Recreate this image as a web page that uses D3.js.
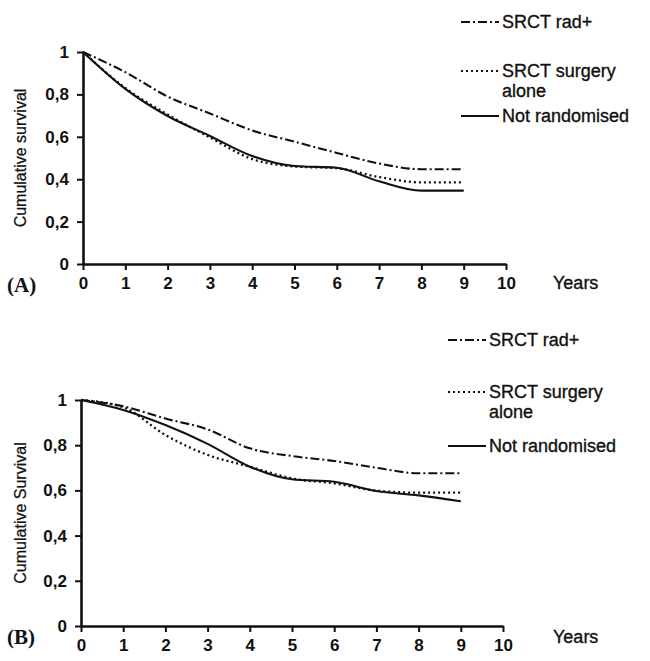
<!DOCTYPE html>
<html lang="en">
<head>
    <meta charset="UTF-8">
    <title>Cumulative survival</title>
    <script src="https://d3js.org/d3.v7.min.js"></script>
    <style>
        body { margin: 0; background: #fff; }
        .tick text { font-family: "Liberation Sans", Arial, sans-serif; font-size: 17px; font-weight: bold; fill: #111; }
        .lbl { font-family: "Liberation Sans", Arial, sans-serif; font-size: 18px; fill: #111; stroke: #111; stroke-width: 0.35; }
        .ytitle { font-family: "Liberation Sans", Arial, sans-serif; font-size: 16px; fill: #111; stroke: #111; stroke-width: 0.25; }
        .panel { font-family: "Liberation Serif", "Times New Roman", serif; font-size: 21px; font-weight: bold; fill: #111; }
    </style>
</head>
<body>
<div id="fig"></div>
<script>
    let years = [0, 1, 2, 3, 4, 5, 6, 7, 8, 9]
    let xTicks = [0, 1, 2, 3, 4, 5, 6, 7, 8, 9, 10]
    let yTicks = [0, 0.2, 0.4, 0.6, 0.8, 1]
    let seriesNames = ["SRCT rad+", "SRCT surgery alone", "Not randomised"]

    // panel A
    let radA     = [1, 0.905, 0.79, 0.71, 0.63, 0.577, 0.524, 0.474, 0.447, 0.447]
    let surgeryA = [1, 0.83, 0.705, 0.597, 0.495, 0.46, 0.452, 0.41, 0.385, 0.385]
    let notRandA = [1, 0.826, 0.698, 0.604, 0.509, 0.462, 0.454, 0.39, 0.346, 0.346]

    // panel B
    let radB     = [1, 0.972, 0.918, 0.87, 0.786, 0.752, 0.73, 0.7, 0.676, 0.676]
    let surgeryB = [1, 0.968, 0.845, 0.757, 0.705, 0.653, 0.631, 0.599, 0.59, 0.59]
    let notRandB = [1, 0.956, 0.889, 0.806, 0.705, 0.649, 0.638, 0.597, 0.578, 0.552]

    let dashes = ["9,3,2,3", "2,3", null]

    let svg = d3.select("#fig").append("svg")
        .attr("width", 650).attr("height", 661)

    let fmt = d => d3.format("~g")(d).replace(".", ",")

    function panel(opt) {
        let x = d3.scaleLinear().domain([0, 10]).range([opt.x0, opt.x1])
        let y = d3.scaleLinear().domain([0, 1]).range([opt.y0, opt.y1])
        let g = svg.append("g")

        g.append("g").attr("transform", `translate(0,${opt.y0})`)
            .call(d3.axisBottom(x).tickValues(xTicks).tickSize(6).tickSizeOuter(0).tickPadding(7))
        g.append("g").attr("transform", `translate(${opt.x0},0)`)
            .call(d3.axisLeft(y).tickValues(yTicks).tickFormat(fmt).tickSize(6).tickSizeOuter(0).tickPadding(8))
        g.selectAll(".domain").attr("stroke", "#111").attr("stroke-width", 2.6)
        g.selectAll(".tick line").attr("stroke", "#111").attr("stroke-width", 2)

        let line = d3.line().x((d, i) => x(years[i])).y(d => y(d)).curve(d3.curveMonotoneX)
        opt.series.forEach(function (s, k) {
            g.append("path").datum(s)
                .attr("d", line)
                .attr("fill", "none")
                .attr("stroke", "#111")
                .attr("stroke-width", k === 1 ? 2.3 : 2.1)
                .attr("stroke-dasharray", dashes[k])
        })

        g.append("text").attr("class", "ytitle")
            .attr("transform", `translate(${opt.titleX},${(opt.y0 + opt.y1) / 2}) rotate(-90)`)
            .attr("text-anchor", "middle").attr("dy", "0.35em")
            .text(opt.title)
        g.append("text").attr("class", "lbl").attr("x", 553).attr("y", opt.yearsY).attr("dy", "0.35em").text("Years")
        g.append("text").attr("class", "panel").attr("x", 7).attr("y", opt.tagY).attr("dy", "0.35em").text(opt.tag)

        // legend
        let lg = g.append("g")
        opt.legendY.forEach(function (ly, k) {
            lg.append("line")
                .attr("x1", opt.legX).attr("x2", opt.legX + 38)
                .attr("y1", ly).attr("y2", ly)
                .attr("stroke", "#111").attr("stroke-width", 2)
                .attr("stroke-dasharray", dashes[k])
            let t = lg.append("text").attr("class", "lbl")
                .attr("x", opt.legX + 41).attr("y", ly).attr("dy", "0.35em")
            if (k === 1) {
                t.text("SRCT surgery")
                lg.append("text").attr("class", "lbl")
                    .attr("x", opt.legX + 41).attr("y", ly + 20).attr("dy", "0.35em").text("alone")
            } else {
                t.text(seriesNames[k])
            }
        })
    }

    panel({
        x0: 83, x1: 506, y0: 264, y1: 52,
        series: [radA, surgeryA, notRandA],
        title: "Cumulative survival", titleX: 20,
        tag: "(A)", tagY: 285, yearsY: 283,
        legX: 461, legendY: [22, 71, 116]
    })

    panel({
        x0: 81, x1: 503, y0: 626, y1: 400,
        series: [radB, surgeryB, notRandB],
        title: "Cumulative Survival", titleX: 20,
        tag: "(B)", tagY: 637, yearsY: 637,
        legX: 448, legendY: [340, 392, 446]
    })
</script>
</body>
</html>
